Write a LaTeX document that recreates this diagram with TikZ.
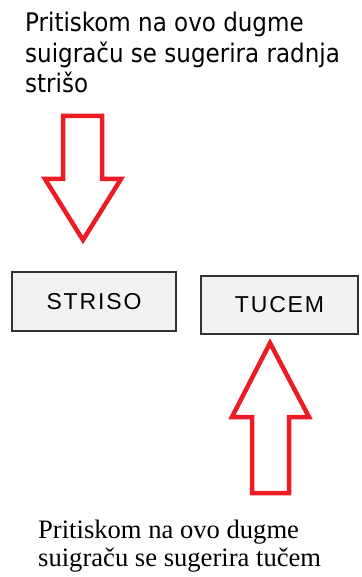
\documentclass[tikz,border=0pt]{standalone}
\usepackage{fontspec}
\usepackage{xcolor}
\usepackage{tikz}
\usetikzlibrary{positioning}
\newfontfamily\hintfont{DejaVu Sans Condensed}
\newfontfamily\buttonfont{Liberation Sans}[LetterSpace=8]
\newfontfamily\notefont{Liberation Serif}
\definecolor{arrowred}{RGB}{237,28,36}
\definecolor{buttongray}{RGB}{242,242,242}
\definecolor{buttonedge}{RGB}{50,50,50}

\begin{document}
\begin{tikzpicture}[
    x=1pt, y=-1pt,
    button/.style={draw=buttonedge, fill=buttongray, line width=1.2pt, inner sep=0pt, font=\buttonfont\fontsize{23}{27}\selectfont},
    hint/.style={anchor=base west, align=left, inner sep=0pt, font=\hintfont\fontsize{25.6}{30.5}\selectfont},
    note/.style={anchor=base west, align=left, inner sep=0pt, font=\notefont\fontsize{26.6}{28}\selectfont},
    blockarrow/.style={draw=arrowred, line width=4.5pt, line join=miter}
]
    \useasboundingbox (0,0) rectangle (361,577);

    % Hint above the first button (base = last line)
    \node[hint] (hinttop) at (25, 93) {Pritiskom na ovo dugme\\suigraču se sugerira radnja\\strišo};

    % Arrow pointing down to STRISO
    \draw[blockarrow] (63,116) -- (102,116) -- (102,179) -- (121,179) -- (83,240) -- (45,179) -- (63,179) -- cycle;

    % Buttons
    \node[button, minimum width=164pt, minimum height=59pt] (striso) at (94, 301.5) {STRISO};
    \node[button, minimum width=157pt, minimum height=58pt] (tucem) at (279.5, 305) {TUCEM};

    % Arrow pointing up to TUCEM
    \draw[blockarrow] (252,493) -- (289,493) -- (289,417) -- (309,417) -- (270,343) -- (232,417) -- (252,417) -- cycle;

    % Hint below the second button (base = last line)
    \node[note] (hintbottom) at (38, 566) {Pritiskom na ovo dugme\\suigraču se sugerira tučem};
\end{tikzpicture}
\end{document}
